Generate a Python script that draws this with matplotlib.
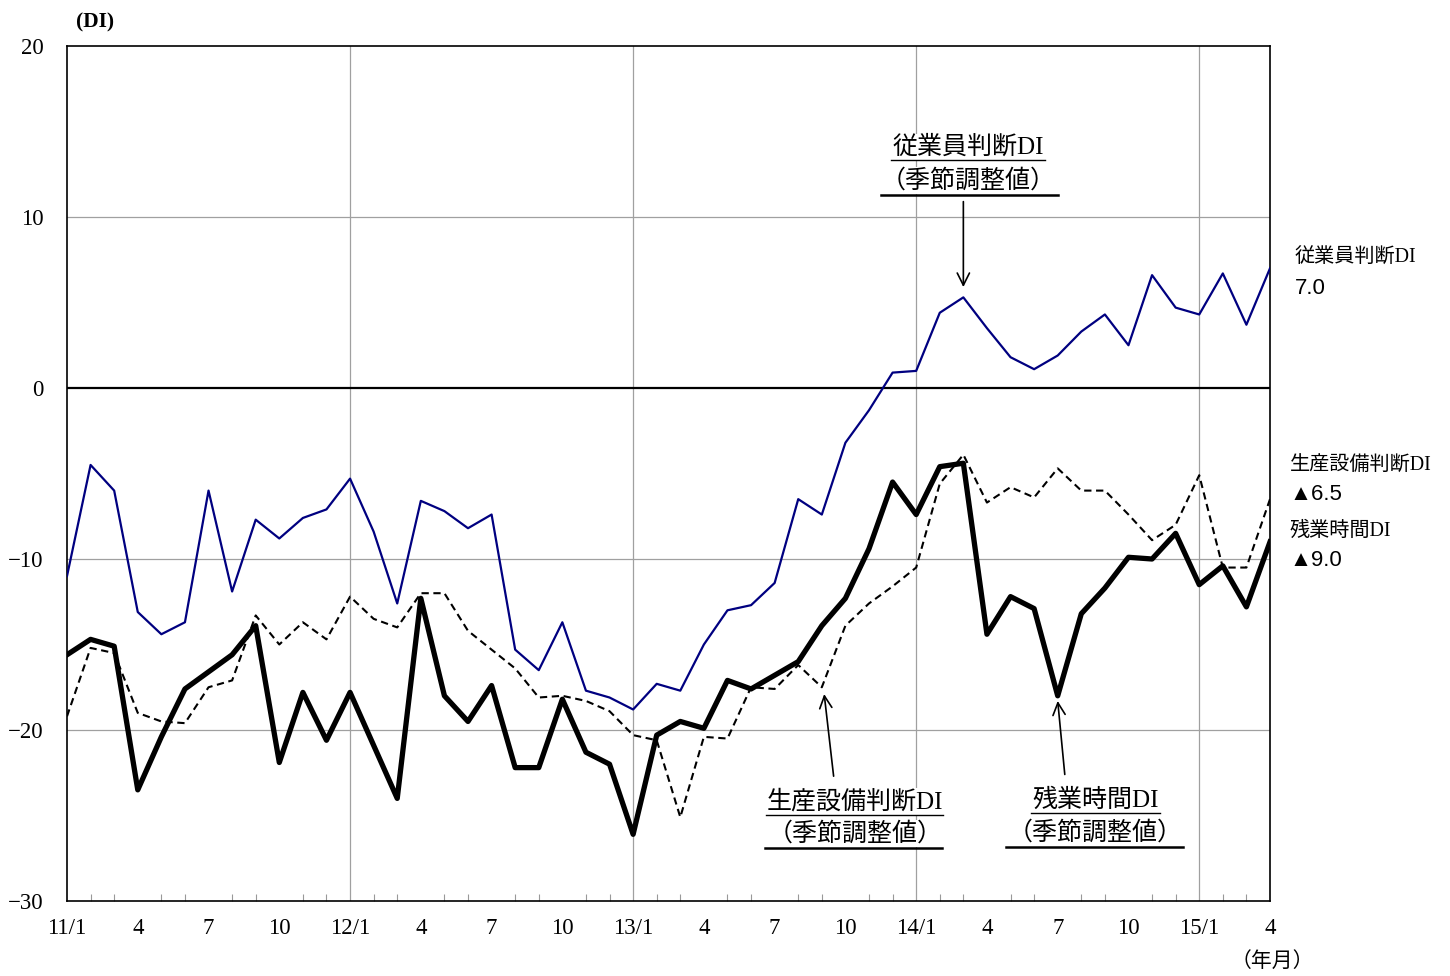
import numpy as np
import matplotlib
matplotlib.use("Agg")
import matplotlib.pyplot as plt

# monthly series, 2011/1 .. 2015/4 (seasonally adjusted DI)
employee_di = [-11.0, -4.5, -6.0, -13.1, -14.4, -13.7, -6.0, -11.9, -7.7, -8.8, -7.6, -7.1,
               -5.3, -8.4, -12.6, -6.6, -7.2, -8.2, -7.4, -15.3, -16.5, -13.7, -17.7, -18.1,
               -18.8, -17.3, -17.7, -15.0, -13.0, -12.7, -11.4, -6.5, -7.4, -3.2, -1.3, 0.9,
               1.0, 4.4, 5.3, 3.5, 1.8, 1.1, 1.9, 3.3, 4.3, 2.5, 6.6, 4.7,
               4.3, 6.7, 3.7, 7.0]
equipment_di = [-19.2, -15.2, -15.5, -19.0, -19.5, -19.6, -17.5, -17.1, -13.3, -15.0, -13.7, -14.7,
                -12.2, -13.5, -14.0, -12.0, -12.0, -14.2, -15.3, -16.4, -18.1, -18.0, -18.3, -18.9,
                -20.3, -20.6, -25.1, -20.4, -20.5, -17.5, -17.6, -16.2, -17.5, -13.9, -12.6, -11.6,
                -10.5, -5.6, -3.9, -6.7, -5.8, -6.4, -4.7, -6.0, -6.0, -7.4, -8.9, -8.0,
                -5.1, -10.5, -10.5, -6.5]
overtime_di = [-15.6, -14.7, -15.1, -23.5, -20.4, -17.6, -16.6, -15.6, -13.9, -21.9, -17.8, -20.6,
               -17.8, -20.9, -24.0, -12.3, -18.0, -19.5, -17.4, -22.2, -22.2, -18.2, -21.3, -22.0,
               -26.1, -20.3, -19.5, -19.9, -17.1, -17.6, -16.8, -16.0, -13.9, -12.3, -9.4, -5.5,
               -7.4, -4.6, -4.4, -14.4, -12.2, -12.9, -18.0, -13.2, -11.7, -9.9, -10.0, -8.5,
               -11.5, -10.4, -12.8, -9.0]

tick_pos = list(range(0, 52, 3))
tick_labels = ["11/1", "4", "7", "10", "12/1", "4", "7", "10", "13/1", "4", "7", "10",
               "14/1", "4", "7", "10", "15/1", "4"]
y_ticks = [20, 10, 0, -10, -20, -30]
y_labels = ["20", "10", "0", "\u221210", "\u221220", "\u221230"]

serif = ["Liberation Serif", "Noto Sans CJK JP", "DejaVu Sans"]
sans = ["Liberation Sans", "Noto Sans CJK JP", "DejaVu Sans"]
plt.rcParams["font.family"] = serif

fig = plt.figure(figsize=(14.5, 9.76), dpi=100)
ax = fig.add_axes([67 / 1450, 1 - 901 / 976, 1203 / 1450, 855 / 976])

x = np.arange(len(employee_di))
ax.plot(x, employee_di, color="#000080", lw=1.6, zorder=4)
ax.plot(x, equipment_di, color="black", lw=1.5, ls=(0, (3.5, 2.2)), zorder=4)
ax.plot(x, overtime_di, color="black", lw=3.8, zorder=5)
ax.axhline(0, color="black", lw=1.6, zorder=3)

ax.set_xlim(0, 51)
ax.set_ylim(-30, 20)
ax.set_yticks(y_ticks)
ax.set_yticklabels(y_labels, fontsize=16.5)
ax.set_xticks(tick_pos)
ax.set_xticklabels(tick_labels, fontsize=16.5)
ax.set_xticks(range(52), minor=True)
ax.tick_params(axis="x", which="both", direction="in", length=5, width=0.8,
               color="#999999", pad=12)
ax.tick_params(axis="y", length=0, pad=17)
ax.tick_params(axis="x", which="major", length=0)

for yv in [10, -10, -20]:
    ax.axhline(yv, color="#a0a0a0", lw=0.9, zorder=1)
for xv in [12, 24, 36, 48]:
    ax.axvline(xv, color="#a0a0a0", lw=0.9, zorder=1)
for s in ax.spines.values():
    s.set_linewidth(1.2)

fig.text(95 / 1450, 1 - 22 / 976, "(DI)", fontsize=15.5, ha="center", va="center",
         family=serif, fontweight="bold")
fig.text(1272 / 1450, 1 - 962 / 976, "（年月）", fontsize=15, ha="center", va="center",
         family=serif)

# end-of-series labels
fig.text(1295 / 1450, 1 - 258 / 976, "従業員判断DI", fontsize=14.5, va="center", family=serif)
fig.text(1295 / 1450, 1 - 288 / 976, "7.0", fontsize=16, va="center", family=sans)
fig.text(1290 / 1450, 1 - 466 / 976, "生産設備判断DI", fontsize=14.5, va="center", family=serif)
fig.text(1290 / 1450, 1 - 495 / 976, "▲6.5", fontsize=16, va="center", family=sans)
fig.text(1290 / 1450, 1 - 531 / 976, "残業時間DI", fontsize=14.5, va="center", family=serif)
fig.text(1290 / 1450, 1 - 561 / 976, "▲9.0", fontsize=16, va="center", family=sans)


def callout(xc, y1, y2, line1, x0, x1, yline, w1, arrow_from, arrow_to):
    bb = dict(facecolor="white", edgecolor="none", pad=1)
    ax.text(xc, y1, line1, fontsize=18, ha="center", va="center", family=serif,
            bbox=bb, zorder=6)
    ax.text(xc, y2, "（季節調整値）", fontsize=18, ha="center", va="center", family=serif,
            bbox=bb, zorder=5.5)
    ax.plot([xc - w1 / 2, xc + w1 / 2], [y1 - 0.75, y1 - 0.75], color="black", lw=1.0, zorder=7)
    ax.plot([x0, x1], [yline, yline], color="black", lw=1.8, zorder=7)
    ax.annotate("", xy=arrow_to, xytext=arrow_from,
                arrowprops=dict(arrowstyle="->", color="black", lw=1.2,
                                mutation_scale=22, shrinkA=0, shrinkB=0), zorder=7)


callout(38.2, 14.1, 12.15, "従業員判断DI", 34.5, 42.0, 11.3, 6.5, (38.0, 10.9), (38.0, 5.9))
callout(33.4, -24.2, -26.05, "生産設備判断DI", 29.6, 37.1, -26.9, 7.5, (32.5, -22.7), (32.1, -17.9))
callout(43.6, -24.1, -26.0, "残業時間DI", 39.8, 47.3, -26.85, 5.5, (42.3, -22.6), (42.0, -18.3))

fig.savefig("out.png", dpi=100)
